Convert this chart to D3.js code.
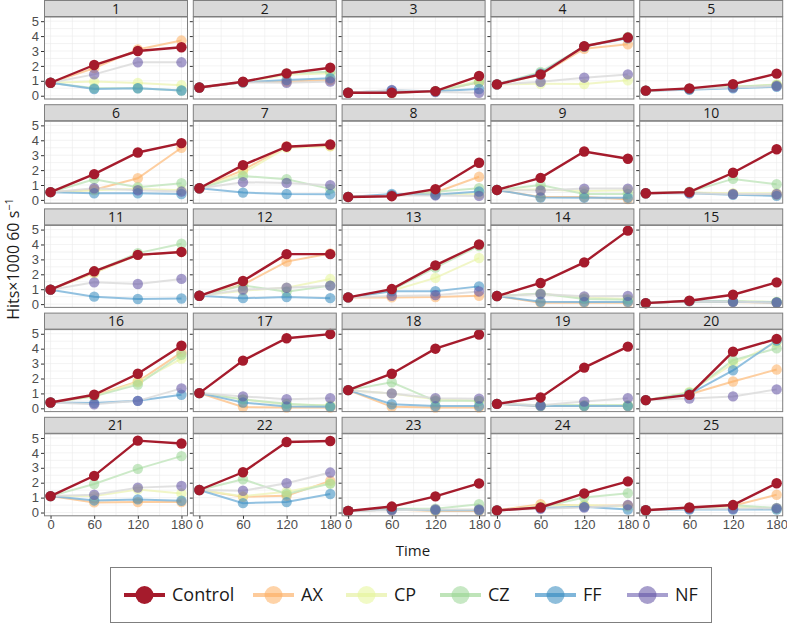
<!DOCTYPE html>
<html>
<head>
<meta charset="utf-8">
<script src="https://cdn.jsdelivr.net/npm/d3@7"></script>
<style>
  body { margin: 0; background: #fff; }
  svg { display: block; font-family: 'Open Sans', 'Noto Sans', sans-serif; }
  .grid line { stroke: #ebebeb; stroke-width: 0.6; }
  .axis text { fill: #4d4d4d; font-size: 13px; }
  .axis line { stroke: #333; }
  .axis path { display: none; }
</style>
</head>
<body>
<svg id="chart" width="787" height="624"></svg>
<script>
const times = [0, 60, 120, 180]
const panels = d3.range(1, 26)
const seriesNames = ['Control', 'AX', 'CP', 'CZ', 'FF', 'NF']

const control = [
  [0.87, 2.06, 3.0, 3.25], [0.55, 0.94, 1.5, 1.88], [0.2, 0.2, 0.31, 1.32], [0.76, 1.43, 3.32, 3.9], [0.34, 0.49, 0.78, 1.48],
  [0.52, 1.73, 3.18, 3.81], [0.78, 2.33, 3.57, 3.72], [0.2, 0.25, 0.72, 2.49], [0.67, 1.48, 3.25, 2.76], [0.45, 0.52, 1.82, 3.4],
  [0.97, 2.2, 3.3, 3.5], [0.56, 1.55, 3.35, 3.35], [0.45, 1.01, 2.6, 4.0], [0.54, 1.42, 2.8, 4.93], [0.07, 0.23, 0.63, 1.46],
  [0.39, 0.91, 2.32, 4.2], [1.02, 3.2, 4.7, 4.98], [1.22, 2.32, 4.0, 4.95], [0.3, 0.73, 2.73, 4.14], [0.55, 0.9, 3.8, 4.66],
  [1.1, 2.46, 4.82, 4.63], [1.51, 2.7, 4.73, 4.8], [0.1, 0.4, 1.08, 1.95], [0.14, 0.34, 1.28, 2.09], [0.15, 0.34, 0.5, 1.96]
]
const ax = [
  [0.87, 1.85, 3.1, 3.7], [0.55, 0.9, 0.95, 1.05], [0.2, 0.2, 0.3, 0.9], [0.76, 1.4, 3.15, 3.45], [0.34, 0.45, 0.6, 0.7],
  [0.52, 0.68, 1.45, 3.5], [0.78, 2.0, 3.6, 3.62], [0.2, 0.3, 0.5, 1.55], [0.67, 0.2, 0.2, 0.05], [0.45, 0.5, 0.4, 0.35],
  [0.97, 2.1, 3.3, 3.5], [0.56, 1.3, 2.85, 3.4], [0.45, 0.45, 0.47, 0.56], [0.54, 0.1, 0.1, 0.1], [0.07, 0.2, 0.15, 0.1],
  [0.39, 0.85, 1.8, 3.75], [1.02, 0.09, 0.05, 0.05], [1.22, 0.1, 0.05, 0.05], [0.3, 0.15, 0.15, 0.15], [0.55, 0.95, 1.8, 2.6],
  [1.1, 0.68, 0.7, 0.7], [1.51, 1.05, 1.12, 2.12], [0.1, 0.2, 0.1, 0.1], [0.14, 0.56, 0.45, 0.47], [0.15, 0.3, 0.45, 1.19]
]
const cp = [
  [0.87, 0.95, 0.85, 0.7], [0.55, 0.9, 1.4, 1.5], [0.2, 0.2, 0.3, 1.0], [0.76, 0.8, 0.78, 1.03], [0.34, 0.45, 0.6, 0.75],
  [0.52, 0.65, 0.75, 0.65], [0.78, 1.8, 3.5, 3.6], [0.2, 0.3, 0.4, 0.4], [0.67, 0.7, 0.6, 0.65], [0.45, 0.5, 0.45, 0.45],
  [0.97, 2.1, 3.3, 3.5], [0.56, 0.9, 1.1, 1.68], [0.45, 0.9, 1.76, 3.09], [0.54, 0.7, 0.45, 0.35], [0.07, 0.2, 0.2, 0.15],
  [0.39, 0.8, 1.75, 3.34], [1.02, 0.6, 0.25, 0.2], [1.22, 1.0, 0.6, 0.5], [0.3, 0.2, 0.2, 0.2], [0.55, 1.1, 3.0, 4.4],
  [1.1, 1.1, 1.55, 1.28], [1.51, 1.1, 1.4, 1.95], [0.1, 0.2, 0.15, 0.2], [0.14, 0.45, 0.5, 0.4], [0.15, 0.3, 0.4, 0.25]
]
const cz = [
  [0.87, 0.5, 0.5, 0.35], [0.55, 0.9, 1.5, 1.6], [0.2, 0.2, 0.3, 0.9], [0.76, 1.6, 3.3, 3.95], [0.34, 0.45, 0.6, 0.72],
  [0.52, 1.39, 0.85, 1.12], [0.78, 1.6, 1.39, 0.74], [0.2, 0.3, 0.55, 0.78], [0.67, 1.0, 0.4, 0.4], [0.45, 0.55, 1.41, 1.05],
  [0.97, 2.2, 3.42, 4.05], [0.56, 1.25, 0.83, 1.24], [0.45, 0.95, 2.45, 3.9], [0.54, 0.72, 0.35, 0.3], [0.07, 0.2, 0.2, 0.15],
  [0.39, 0.8, 1.59, 3.59], [1.02, 0.6, 0.3, 0.15], [1.22, 1.75, 0.5, 0.5], [0.3, 0.2, 0.2, 0.2], [0.55, 1.05, 3.23, 4.02],
  [1.1, 1.91, 2.93, 3.78], [1.51, 2.23, 1.24, 1.94], [0.1, 0.25, 0.25, 0.56], [0.14, 0.35, 1.0, 1.3], [0.15, 0.3, 0.5, 0.3]
]
const ff = [
  [0.87, 0.45, 0.5, 0.35], [0.55, 0.9, 1.05, 1.17], [0.2, 0.35, 0.3, 0.45], [0.76, 1.5, 3.3, 3.85], [0.34, 0.4, 0.5, 0.6],
  [0.52, 0.45, 0.45, 0.4], [0.78, 0.49, 0.4, 0.38], [0.2, 0.4, 0.35, 0.56], [0.67, 0.16, 0.15, 0.15], [0.45, 0.45, 0.35, 0.27],
  [0.97, 0.5, 0.34, 0.38], [0.56, 0.4, 0.47, 0.4], [0.45, 0.86, 0.86, 1.19], [0.54, 0.16, 0.15, 0.15], [0.07, 0.2, 0.16, 0.11],
  [0.39, 0.35, 0.5, 0.91], [1.02, 0.39, 0.12, 0.1], [1.22, 0.27, 0.15, 0.15], [0.3, 0.15, 0.15, 0.15], [0.55, 0.95, 2.55, 4.55],
  [1.1, 0.81, 0.88, 0.79], [1.51, 0.63, 0.7, 1.24], [0.1, 0.2, 0.16, 0.15], [0.14, 0.3, 0.38, 0.2], [0.15, 0.2, 0.2, 0.2]
]
const nf = [
  [0.87, 1.43, 2.24, 2.24], [0.55, 0.9, 0.87, 0.95], [0.2, 0.38, 0.25, 0.2], [0.76, 0.94, 1.21, 1.43], [0.34, 0.45, 0.55, 0.65],
  [0.52, 0.78, 0.65, 0.56], [0.78, 1.19, 1.14, 0.99], [0.2, 0.3, 0.3, 0.27], [0.67, 0.63, 0.76, 0.76], [0.45, 0.45, 0.4, 0.4],
  [0.97, 1.46, 1.35, 1.69], [0.56, 0.97, 1.1, 1.24], [0.45, 0.55, 0.6, 0.85], [0.54, 0.68, 0.52, 0.55], [0.07, 0.2, 0.16, 0.11],
  [0.39, 0.27, 0.5, 1.34], [1.02, 0.8, 0.61, 0.68], [1.22, 1.0, 0.68, 0.65], [0.3, 0.2, 0.45, 0.68], [0.55, 0.66, 0.8, 1.27],
  [1.1, 1.19, 1.67, 1.78], [1.51, 1.46, 1.96, 2.68], [0.1, 0.15, 0.2, 0.2], [0.14, 0.25, 0.34, 0.5], [0.15, 0.25, 0.25, 0.29]
]
const yTicks = [0, 1, 2, 3, 4, 5]

const seriesValues = { Control: control, AX: ax, CP: cp, CZ: cz, FF: ff, NF: nf }
const pointColor = { Control: '#a51b2c', AX: '#fdae61', CP: '#e6f598', CZ: '#99d594', FF: '#3288bd', NF: '#5e4fa2' }
const lineColor = { Control: '#a51b2c', AX: '#fdc58f', CP: '#eef5bd', CZ: '#c4e6bf', FF: '#7fb6da', NF: '#dcdcdc' }
const legendLine = { Control: '#a51b2c', AX: '#fdcb9b', CP: '#eef5c0', CZ: '#bfe4b9', FF: '#7fb6da', NF: '#a79fcf' }

const svg = d3.select('#chart')
const colLeft = d3.range(5).map(i => 44 + i * 148.8)
const panelW = 144
const stripH = 17
const plotH = 82
const rowStep = 104.2

const x = d3.scaleLinear().domain([-9, 189]).range([0, panelW])
const y = d3.scaleLinear().domain([-0.22, 5.28]).range([plotH, 0])
const line = d3.line().x((d, i) => x(times[i])).y(d => y(d))

panels.forEach((p, k) => {
  const col = k % 5
  const row = Math.floor(k / 5)
  const top = row * rowStep
  const g = svg.append('g').attr('transform', `translate(${colLeft[col]},${top})`)

  // strip
  g.append('rect').attr('x', 0.5).attr('y', 0.5).attr('width', panelW - 1).attr('height', stripH - 1)
    .attr('fill', '#d9d9d9').attr('stroke', '#7f7f7f').attr('stroke-width', 1)
  g.append('text').attr('x', panelW / 2).attr('y', stripH / 2 + 5).attr('text-anchor', 'middle')
    .attr('font-size', 14).attr('fill', '#1a1a1a').text(p)

  const pg = g.append('g').attr('transform', `translate(0,${stripH})`)
  const grid = pg.append('g').attr('class', 'grid')
  grid.selectAll('.vx').data(d3.range(0, 181, 30)).join('line')
    .attr('x1', d => x(d)).attr('x2', d => x(d)).attr('y1', 0).attr('y2', plotH)
  grid.selectAll('.hy').data(d3.range(0, 5.01, 0.5)).join('line')
    .attr('x1', 0).attr('x2', panelW).attr('y1', d => y(d)).attr('y2', d => y(d))

  const others = seriesNames.slice(1)
  others.forEach(s => {
    pg.append('path').datum(seriesValues[s][k]).attr('d', line).attr('fill', 'none')
      .attr('stroke', lineColor[s]).attr('stroke-width', 2).attr('opacity', 0.85)
  })
  others.forEach(s => {
    pg.selectAll(null).data(seriesValues[s][k]).join('circle')
      .attr('cx', (d, i) => x(times[i])).attr('cy', d => y(d)).attr('r', 5.2)
      .attr('fill', pointColor[s]).attr('opacity', 0.55)
  })
  pg.append('path').datum(control[k]).attr('d', line).attr('fill', 'none')
    .attr('stroke', pointColor.Control).attr('stroke-width', 2.4)
  pg.selectAll(null).data(control[k]).join('circle')
    .attr('cx', (d, i) => x(times[i])).attr('cy', d => y(d)).attr('r', 5.2)
    .attr('fill', pointColor.Control)

  pg.append('rect').attr('x', 0.5).attr('y', 0).attr('width', panelW - 1).attr('height', plotH)
    .attr('fill', 'none').attr('stroke', '#7f7f7f').attr('stroke-width', 1)

  const yAxis = d3.axisLeft(y).tickValues(yTicks).tickFormat(d3.format('d')).tickSize(3).tickPadding(2)
  const ya = pg.append('g').attr('class', 'axis').call(yAxis)
  if (col !== 0) ya.selectAll('text').remove()
  if (row === 4) {
    const xAxis = d3.axisBottom(x).tickValues(times).tickSize(3).tickPadding(1)
    pg.append('g').attr('class', 'axis').attr('transform', `translate(0,${plotH})`).call(xAxis)
  }
})

svg.append('text').attr('transform', 'translate(19,259) rotate(-90)').attr('text-anchor', 'middle')
  .attr('font-size', 16).attr('fill', '#1a1a1a')
  .call(t => {
    t.append('tspan').text('Hits×1000 60 s')
    t.append('tspan').attr('dy', -6).attr('font-size', 11).text('−1')
  })

svg.append('text').attr('x', 413).attr('y', 556).attr('text-anchor', 'middle')
  .attr('font-size', 15).attr('fill', '#1a1a1a').text('Time')

// legend
const lg = svg.append('g')
lg.append('rect').attr('x', 110.5).attr('y', 567.5).attr('width', 601).attr('height', 55)
  .attr('fill', '#fff').attr('stroke', '#7f7f7f')
const keyX = [124, 253, 346, 440, 535, 627]
seriesNames.forEach((s, i) => {
  const kg = lg.append('g').attr('transform', `translate(${keyX[i]},595)`)
  kg.append('line').attr('x1', 0).attr('x2', 41).attr('stroke', legendLine[s]).attr('stroke-width', 4)
  kg.append('circle').attr('cx', 20.5).attr('r', 9).attr('fill', pointColor[s])
    .attr('opacity', s === 'Control' ? 1 : 0.55)
  kg.append('text').attr('x', 48).attr('y', 6).attr('font-size', 18).attr('fill', '#1a1a1a').text(s)
})
</script>
</body>
</html>
